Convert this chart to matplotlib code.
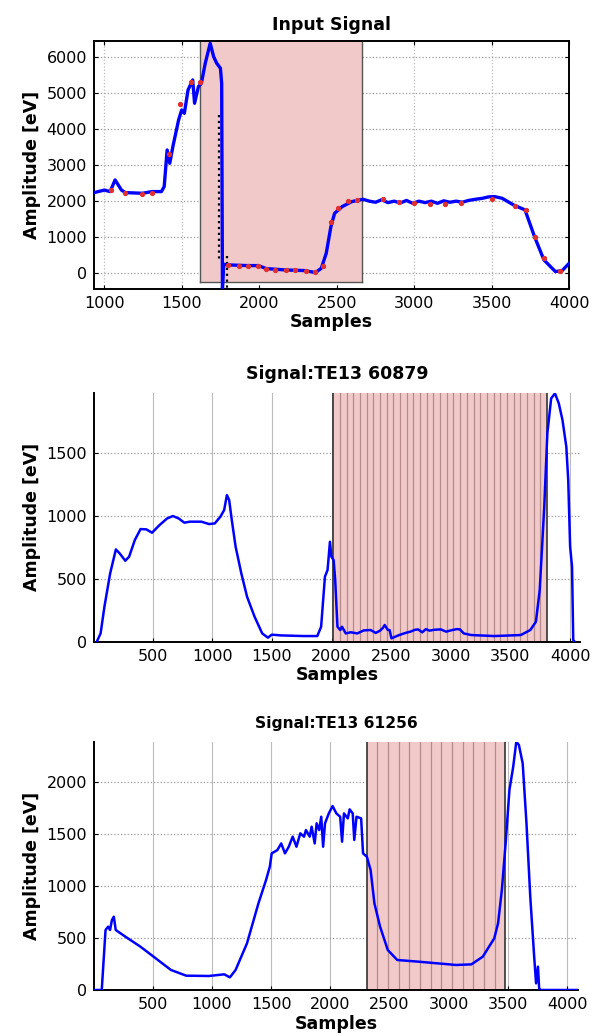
import matplotlib
matplotlib.use("Agg")
import matplotlib.pyplot as plt
import numpy as np

plt.rcParams['font.family'] = ['DejaVu Sans']

# ---- panel 1 : input signal ----
x1 = [934, 1000, 1037, 1069, 1110, 1135, 1246, 1307, 1368, 1386, 1405, 1422, 1442,
      1479, 1499, 1516, 1540, 1570, 1582, 1607, 1626, 1651, 1683, 1705, 1725, 1749,
      1757, 1762, 1770, 1798, 1921, 1995, 2044, 2167, 2290, 2363, 2400, 2432, 2462,
      2486, 2535, 2597, 2670, 2710, 2750, 2790, 2830, 2870, 2910, 2950, 2990, 3030,
      3070, 3110, 3150, 3190, 3230, 3270, 3310, 3350, 3395, 3440, 3480, 3518, 3567,
      3641, 3715, 3776, 3837, 3911, 3955, 4000]
y1 = [2229, 2300, 2257, 2582, 2300, 2229, 2210, 2257, 2257, 2396, 3418, 3046, 3510,
      4254, 4532, 4440, 5090, 5368, 4718, 5183, 5275, 5833, 6390, 6018, 5833, 5693,
      5275, -450, 230, 214, 195, 195, 111, 74, 56, 0, 121, 539, 1282,
      1653, 1839, 1978, 2043, 1990, 1960, 2030, 1950, 1990, 1940, 2010, 1930, 1990,
      1950, 1990, 1930, 2000, 1960, 1990, 1960, 2010, 2043, 2070, 2110, 2118, 2071,
      1885, 1746, 1003, 353, 28, 56, 260]
dots1_x = [1040, 1130, 1240, 1310, 1420, 1490, 1560, 1620, 1800, 1870, 1930, 1990,
           2040, 2100, 2170, 2230, 2300, 2360, 2410, 2460, 2510, 2570, 2630, 2800,
           2900, 3000, 3100, 3200, 3300, 3500, 3650, 3720, 3780, 3840, 3940]
dots1_y = [2300, 2230, 2190, 2230, 3300, 4700, 5300, 5300, 200, 190, 180, 190,
           100, 80, 80, 70, 40, 10, 190, 1400, 1800, 2000, 2020, 2050,
           1980, 1950, 1900, 1900, 1950, 2050, 1850, 1750, 1000, 400, 50]
span1 = (1619, 2665)
span1_floor = -260
dotted1_x = [1737, 1790]
dotted1_y = [(4400, 300), (450, -450)]

# ---- panel 2 : TE13 60879 ----
x2 = [31, 63, 95, 143, 191, 223, 270, 302, 350, 398, 446, 494, 557, 621, 669, 717,
      765, 812, 908, 972, 1020, 1067, 1099, 1122, 1141, 1163, 1195, 1243, 1291, 1354,
      1418, 1466, 1498, 1577, 1769, 1880, 1912, 1944, 1966, 1986, 1998, 2017, 2030,
      2049, 2072, 2087, 2119, 2160, 2215, 2270, 2327, 2370, 2406, 2430, 2445, 2470,
      2486, 2502, 2566, 2620, 2661, 2700, 2725, 2760, 2790, 2821, 2860, 2916, 2960,
      3012, 3050, 3076, 3108, 3171, 3363, 3586, 3666, 3713, 3745, 3783, 3809, 3841,
      3873, 3905, 3936, 3968, 3984, 4000, 4016, 4026, 4038]
y2 = [0, 66, 279, 544, 735, 703, 645, 677, 810, 897, 895, 868, 929, 982, 1001, 982,
      948, 956, 956, 937, 942, 995, 1049, 1168, 1128, 969, 757, 544, 358, 199,
      66, 32, 56, 50, 45, 45, 119, 518, 571, 796, 677, 650, 491,
      119, 93, 119, 66, 75, 66, 90, 93, 70, 88, 110, 133, 95,
      93, 27, 53, 70, 80, 95, 98, 75, 100, 88, 95, 98, 80,
      93, 100, 98, 66, 53, 45, 53, 93, 159, 411, 1075, 1659, 1938,
      1978, 1898, 1765, 1553, 1288, 757, 597, 13, 0]
span2 = (2014, 3803)
stripe2_step = 56

# ---- panel 3 : TE13 61256 ----
x3 = [12, 70, 102, 124, 140, 156, 172, 188, 269, 397, 526, 654, 783, 975, 1104,
      1152, 1200, 1296, 1393, 1457, 1489, 1505, 1553, 1585, 1617, 1649, 1682, 1714,
      1746, 1778, 1794, 1826, 1842, 1868, 1884, 1906, 1923, 1939, 1955, 1987, 2019,
      2051, 2083, 2099, 2115, 2147, 2163, 2189, 2202, 2221, 2260, 2276, 2308, 2340,
      2372, 2420, 2485, 2565, 2742, 3063, 3191, 3287, 3384, 3416, 3448, 3480, 3512,
      3544, 3570, 3592, 3624, 3656, 3688, 3721, 3737, 3753, 3763, 3776, 4090]
y3 = [0, 0, 578, 610, 578, 674, 706, 578, 514, 417, 305, 193, 138, 135, 151,
      122, 193, 449, 835, 1059, 1188, 1316, 1348, 1412, 1316, 1380, 1477, 1380,
      1509, 1477, 1541, 1477, 1573, 1412, 1605, 1541, 1669, 1380, 1605, 1701, 1772,
      1701, 1669, 1429, 1701, 1653, 1740, 1701, 1445, 1669, 1653, 1316, 1284, 1156,
      835, 610, 385, 289, 273, 241, 247, 321, 498, 642, 963, 1413, 1926,
      2151, 2392, 2360, 2183, 1605, 899, 321, 64, 225, 16, 0, 0]
span3 = (2308, 3474)
stripe3_step = 90

fill_c = '#f2c9c9'
stripe_c = '#b58a8a'
blue = '#0000ff'

fig = plt.figure(figsize=(5.96, 10.36), dpi=100)

def style(ax, box):
    ax.tick_params(direction='in', labelsize=11.5, length=3, pad=5,
                   top=box, right=box)
    ax.grid(axis='y', color='#999999', linestyle=':', linewidth=0.9)
    ax.grid(axis='x', color='#bbbbbb', linestyle='-' if not box else ':',
            linewidth=0.8 if not box else 0.9)
    ax.set_axisbelow(True)
    for s in ax.spines.values():
        s.set_linewidth(1.4)
    if not box:
        ax.spines['top'].set_visible(False)
        ax.spines['right'].set_visible(False)
    ax.set_xlabel('Samples', fontsize=12.5, fontweight='bold', labelpad=2)
    ax.set_ylabel('Amplitude [eV]', fontsize=12.5, fontweight='bold', labelpad=4)

# panel 1
ax1 = fig.add_axes([0.158, 0.7213, 0.797, 0.239])
ax1.fill_between(span1, span1_floor, 6450, color=fill_c, linewidth=0, zorder=1)
ax1.plot([span1[0], span1[0]], [span1_floor, 6450], color='#555555', lw=1.0, zorder=1)
ax1.plot([span1[1], span1[1]], [span1_floor, 6450], color='#555555', lw=1.0, zorder=1)
ax1.plot([span1[0], span1[1]], [span1_floor, span1_floor], color='#555555', lw=1.0, zorder=1)
for dx, (ya, yb) in zip(dotted1_x, dotted1_y):
    ax1.plot([dx, dx], [ya, yb], color='black', linestyle=':', lw=1.6, zorder=2)
ax1.plot(x1, y1, color=blue, lw=2.4, zorder=3)
ax1.plot(dots1_x, dots1_y, 'o', color='#e03030', ms=2.8, zorder=4)
ax1.set_xlim(934, 4000)
ax1.set_ylim(-450, 6450)
ax1.set_xticks(np.arange(1000, 4001, 500))
ax1.set_yticks(np.arange(0, 6001, 1000))
style(ax1, True)
ax1.set_title('Input Signal', fontsize=12.5, fontweight='bold', pad=8)

# panel 2
ax2 = fig.add_axes([0.158, 0.3806, 0.8146, 0.2403])
ax2.axvspan(span2[0], span2[1], color=fill_c, zorder=1, lw=0)
for sx in np.arange(span2[0] + stripe2_step, span2[1], stripe2_step):
    ax2.axvline(sx, color=stripe_c, lw=0.9, zorder=1)
ax2.axvline(span2[0], color='#333333', lw=1.2, zorder=2)
ax2.axvline(span2[1], color='#333333', lw=1.2, zorder=2)
ax2.plot(x2, y2, color=blue, lw=1.8, zorder=3)
ax2.set_xlim(9, 4080)
ax2.set_ylim(0, 1983)
ax2.set_xticks(np.arange(500, 4001, 500))
ax2.set_yticks(np.arange(0, 1501, 500))
style(ax2, False)
ax2.set_title('Signal:TE13 60879', fontsize=12.5, fontweight='bold', pad=10)

# panel 3
ax3 = fig.add_axes([0.158, 0.0444, 0.8116, 0.2397])
ax3.axvspan(span3[0], span3[1], color=fill_c, zorder=1, lw=0)
for sx in np.arange(span3[0] + stripe3_step, span3[1], stripe3_step):
    ax3.axvline(sx, color=stripe_c, lw=0.9, zorder=1)
ax3.axvline(span3[0], color='#333333', lw=1.2, zorder=2)
ax3.axvline(span3[1], color='#333333', lw=1.2, zorder=2)
ax3.plot(x3, y3, color=blue, lw=1.8, zorder=3)
ax3.set_xlim(6, 4090)
ax3.set_ylim(0, 2392)
ax3.set_xticks(np.arange(500, 4001, 500))
ax3.set_yticks(np.arange(0, 2001, 500))
style(ax3, False)
ax3.set_title('Signal:TE13 61256', fontsize=11.2, fontweight='bold', pad=10)

fig.savefig('out.png', dpi=100)
